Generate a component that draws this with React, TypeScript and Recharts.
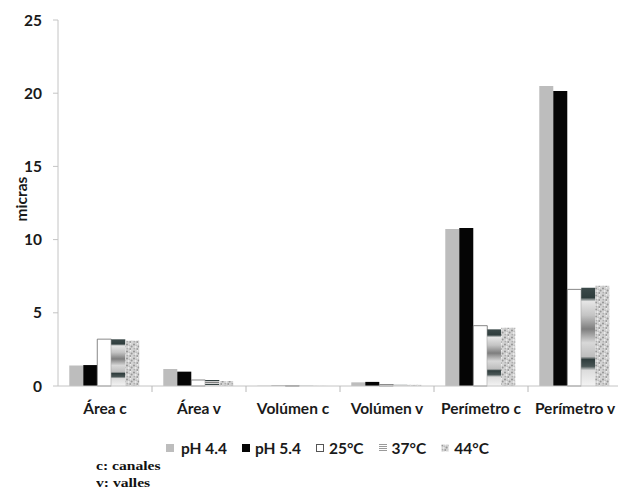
import { BarChart, Bar, XAxis, YAxis, Legend } from "recharts";

const categories = [
  "Área c",
  "Área v",
  "Volúmen c",
  "Volúmen v",
  "Perímetro c",
  "Perímetro v",
];

const ph44 = [1.4, 1.16, 0.02, 0.25, 10.72, 20.49];
const ph54 = [1.43, 0.98, 0.02, 0.28, 10.8, 20.15];
const t25 = [3.2, 0.41, 0.01, 0.1, 4.12, 6.6];
const t37 = [3.19, 0.41, 0.01, 0.08, 3.87, 6.71];
const t44 = [3.1, 0.34, 0.01, 0.08, 3.98, 6.85];

const yTicks = [0, 5, 10, 15, 20, 25];

const series = [
  { key: "ph44", name: "pH 4.4", fill: "#bdbdbd", stroke: "none" },
  { key: "ph54", name: "pH 5.4", fill: "#050505", stroke: "none" },
  { key: "t25", name: "25°C", fill: "#ffffff", stroke: "#6a6a6a" },
  { key: "t37", name: "37°C", fill: "url(#metal37)", stroke: "none" },
  { key: "t44", name: "44°C", fill: "url(#speckle44)", stroke: "none" },
];

const data = categories.map((name, i) => ({
  name,
  ph44: ph44[i],
  ph54: ph54[i],
  t25: t25[i],
  t37: t37[i],
  t44: t44[i],
}));

const FONT = "Lato, 'Open Sans', sans-serif";
const FS = 15.5;

// category label centred in the band, with a boundary tick on its right edge
function CategoryTick(props: any) {
  const { x, y, payload } = props;
  const half = payload.offset || 0;
  return (
    <g>
      <line x1={x + half} x2={x + half} y1={y} y2={y + 6} stroke="#b8b8b8" />
      <text
        x={x}
        y={y + 28}
        textAnchor="middle"
        fontFamily={FONT}
        fontWeight={700}
        fontSize={FS}
        fill="#1a1a1a"
      >
        {payload.value}
      </text>
    </g>
  );
}

function Swatch({ k }: { k: string }) {
  if (k === "t37") {
    return (
      <svg width={8} height={8} style={{ display: "block" }}>
        {[0.5, 2.5, 4.5, 6.5].map((yy) => (
          <line key={yy} x1={0} x2={8} y1={yy} y2={yy} stroke="#9a9a9a" />
        ))}
      </svg>
    );
  }
  const s = series.find((d) => d.key === k)!;
  return (
    <svg width={8} height={8} style={{ display: "block" }}>
      <rect
        x={0.5}
        y={0.5}
        width={7}
        height={7}
        fill={s.fill}
        stroke={k === "t25" ? "#555" : k === "t44" ? "none" : s.fill}
      />
    </svg>
  );
}

function LegendRow() {
  return (
    <div
      style={{
        display: "flex",
        fontFamily: FONT,
        fontWeight: 700,
        fontSize: FS,
        color: "#1a1a1a",
        lineHeight: "16px",
      }}
    >
      {series.map((s, i) => (
        <div
          key={s.key}
          style={{
            display: "flex",
            alignItems: "center",
            marginLeft: i === 0 ? 0 : 15,
          }}
        >
          <Swatch k={s.key} />
          <span style={{ marginLeft: i === 0 ? 7 : 5 }}>{s.name}</span>
        </div>
      ))}
    </div>
  );
}

export default function App() {
  return (
    <div
      style={{
        position: "absolute",
        left: 0,
        top: 0,
        width: 618,
        height: 493,
        overflow: "hidden",
        background: "#fff",
      }}
    >
      <BarChart
        width={622}
        height={493}
        data={data}
        margin={{ top: 20, right: 0, left: 0, bottom: 77 }}
        barCategoryGap="12%"
        barGap={0}
      >
        <defs>
          <linearGradient id="metal37" x1="0" y1="0" x2="0" y2="1">
            <stop offset="0" stopColor="#3c4a4a" />
            <stop offset="0.1" stopColor="#2f3d3d" />
            <stop offset="0.14" stopColor="#e6e6e6" />
            <stop offset="0.28" stopColor="#c4c4c4" />
            <stop offset="0.42" stopColor="#7e7e7e" />
            <stop offset="0.56" stopColor="#d8d8d8" />
            <stop offset="0.7" stopColor="#bdbdbd" />
            <stop offset="0.73" stopColor="#2f3d3d" />
            <stop offset="0.8" stopColor="#4a5656" />
            <stop offset="0.84" stopColor="#dcdcdc" />
            <stop offset="1" stopColor="#f4f4f4" />
          </linearGradient>
          <pattern
            id="speckle44"
            width={7}
            height={7}
            patternUnits="userSpaceOnUse"
          >
            <rect width={7} height={7} fill="#d3d3d3" />
            <circle cx={1} cy={1.5} r={0.9} fill="#8c8c8c" />
            <circle cx={4.5} cy={0.8} r={0.7} fill="#f2f2f2" />
            <circle cx={5.6} cy={3.4} r={1} fill="#999" />
            <circle cx={2.6} cy={4} r={0.8} fill="#f5f5f5" />
            <circle cx={1.2} cy={5.8} r={0.7} fill="#a0a0a0" />
            <circle cx={4.2} cy={6} r={0.8} fill="#7f7f7f" />
            <circle cx={3.3} cy={2.3} r={0.5} fill="#b0b0b0" />
          </pattern>
        </defs>
        <XAxis
          dataKey="name"
          axisLine={{ stroke: "#c4c4c4" }}
          tickLine={false}
          tickSize={0}
          tickMargin={0}
          height={30}
          interval={0}
          tick={<CategoryTick />}
        />
        <YAxis
          width={58}
          domain={[0, 25]}
          ticks={yTicks}
          interval={0}
          axisLine={{ stroke: "#c4c4c4" }}
          tickLine={{ stroke: "#c4c4c4" }}
          tickSize={5}
          tickMargin={11}
          tick={{
            fontSize: FS,
            fontWeight: 700,
            fill: "#1a1a1a",
            fontFamily: FONT,
          }}
          label={{
            content: () => (
              <text
                x={27}
                y={199}
                transform="rotate(-90 27 199)"
                textAnchor="middle"
                fontFamily={FONT}
                fontWeight={700}
                fontSize={FS}
                fill="#1a1a1a"
              >
                micras
              </text>
            ),
          }}
        />
        <Legend
          layout="vertical"
          align="center"
          verticalAlign="middle"
          wrapperStyle={{ top: 440, left: 166, width: 440 }}
          content={() => <LegendRow />}
        />
        {series.map((s) => (
          <Bar
            key={s.key}
            dataKey={s.key}
            name={s.name}
            fill={s.fill}
            stroke={s.stroke}
            strokeWidth={s.stroke === "none" ? 0 : 0.8}
            isAnimationActive={false}
          />
        ))}
      </BarChart>
      <div
        style={{
          position: "absolute",
          left: 96,
          top: 458,
          fontFamily: "'Liberation Serif', 'Times New Roman', serif",
          fontWeight: 700,
          fontSize: 12,
          lineHeight: "17px",
          color: "#111",
          transform: "scaleX(1.3)",
          transformOrigin: "0 0",
        }}
      >
        <div>c: canales</div>
        <div>v: valles</div>
      </div>
    </div>
  );
}
